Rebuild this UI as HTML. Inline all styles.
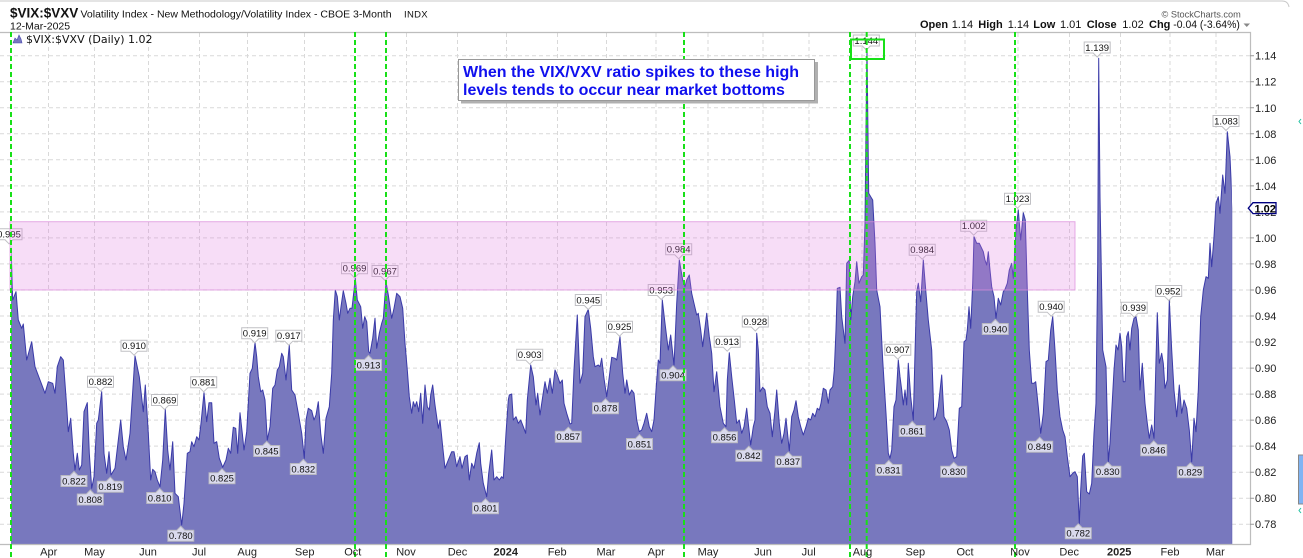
<!DOCTYPE html>
<html><head><meta charset="utf-8">
<style>
html,body{margin:0;padding:0;background:#fff;width:1303px;height:558px;overflow:hidden}
svg{display:block;font-family:"Liberation Sans",Arial,sans-serif}
.g{stroke:#d9d9d9;stroke-width:1;stroke-dasharray:4 3;fill:none}
.yl{font-size:11px;fill:#222}
.ml{font-size:11px;fill:#222;text-anchor:middle}
.lb text{font-size:9.5px;fill:#111;text-anchor:middle}
.gr{stroke:#18e018;stroke-width:2;stroke-dasharray:5 3;fill:none}
</style></head><body>
<svg width="1303" height="558" viewBox="0 0 1303 558" xmlns="http://www.w3.org/2000/svg">
<defs>
<path id="p" d="M-13,-5.5H13V5.5H4L0,9.5L-4,5.5H-13Z" fill="rgba(255,255,255,0.72)" stroke="rgba(185,185,190,0.9)" stroke-width="1"/>
<path id="t" d="M-13,-5.5H-4L0,-9.5L4,-5.5H13V5.5H-13Z" fill="rgba(255,255,255,0.72)" stroke="rgba(185,185,190,0.9)" stroke-width="1"/>
<clipPath id="lc"><rect x="11.6" y="30" width="1220.2" height="513.3"/></clipPath>
</defs>

<!-- top frame -->
<path d="M0,1H1282Q1288,1 1289,7" stroke="#c8c8c8" stroke-width="1" fill="none"/>

<!-- header -->
<text x="10" y="17.3" font-size="13.5" font-weight="bold" fill="#111">$VIX:$VXV</text>
<text x="80.5" y="17.3" font-size="10.5" fill="#111">Volatility Index - New Methodology/Volatility Index - CBOE 3-Month</text>
<text x="404" y="17.3" font-size="9.5" fill="#111" letter-spacing="0.3">INDX</text>
<text x="10" y="29.3" font-size="10.5" fill="#111">12-Mar-2025</text>
<text x="1161.5" y="17.5" font-size="9.2" fill="#555">© StockCharts.com</text>
<g font-size="11" fill="#111">
<text x="920" y="28" font-weight="bold">Open</text><text x="951.7" y="28">1.14</text>
<text x="978.3" y="28" font-weight="bold">High</text><text x="1007.7" y="28">1.14</text>
<text x="1033.3" y="28" font-weight="bold">Low</text><text x="1060" y="28">1.01</text>
<text x="1086.7" y="28" font-weight="bold">Close</text><text x="1122.3" y="28">1.02</text>
<text x="1149" y="28" font-weight="bold">Chg</text><text x="1173.3" y="28" textLength="66.5" lengthAdjust="spacingAndGlyphs">-0.04 (-3.64%)</text>
</g>
<path d="M1243.5,23.5H1250L1246.75,27Z" fill="#888"/>

<!-- grid -->
<g class="g">
<path d="M0,55.7H1250M0,81.7H1250M0,107.8H1250M0,133.8H1250M0,159.8H1250M0,185.9H1250M0,211.9H1250M0,237.9H1250M0,263.9H1250M0,290H1250M0,316H1250M0,342H1250M0,368.1H1250M0,394.1H1250M0,420.1H1250M0,446.1H1250M0,472.2H1250M0,498.2H1250M0,524.2H1250"/>
<path d="M48.5,33V544M94.5,33V544M148.5,33V544M199.5,33V544M247.5,33V544M304.5,33V544M406.5,33V544M457.5,33V544M506.5,33V544M557.5,33V544M606.5,33V544M656,33V544M708,33V544M763,33V544M809,33V544M862,33V544M915.5,33V544M965,33V544M1018,33V544M1069.5,33V544M1120.5,33V544M1170,33V544M1216,33V544"/>
</g>

<!-- area -->
<path id="area" fill="#7878be" d="M11,544L11,244L12.7,300L16,291.7L18.3,320L21.7,328.3L23.3,324L26.7,360L31.7,341.7L35,366.7L40,380L45,393.3L48.3,381.7L52.7,383.3L55,393.3L57.3,366.7L60.7,356.7L63.3,360L66.7,406.7L68.3,431.7L70.7,418.3L73.3,453.3L75,470L77.3,453.3L79.3,470L81.7,465L84,411.7L87.3,402.7L89.3,453.3L91.7,488.3L94,476.7L96.7,423.3L98.3,420L101.7,391.7L104,453.3L106.7,473.3L109,451.7L111,475L115,468.3L118.3,440L120.7,420L123.3,446.7L126,460L130,433.3L135,356L139.3,376.7L143.3,411.7L145.3,385L148.3,433.3L150.7,480L152.7,469.3L155,471.7L157.3,480L160,486.7L162.7,460L165.3,409.3L167.7,450L170,470L172.7,441.7L175,493.3L178.3,496.7L181.7,525L184,503.3L187.3,453.3L190,451.7L191.7,441.7L194,446.7L196.7,436.7L199,440L201,423.3L204,392.7L206.7,421.7L209,402.7L211.7,402.7L214,443.3L216.7,441.7L219.3,458.3L222.7,467.3L226,460L228.3,448.3L230.7,453.3L233.3,427.3L235.7,428.3L237.7,453.3L240,412.7L242.3,433.3L244,450L246.7,431.7L250,373.3L252.3,368.3L255,342.7L256.7,356.7L258.3,376.7L260.7,391.7L262.7,390L265,400L267.3,440L270,426.7L272.7,388.3L275,385L277.3,370L279.3,366.7L281.7,353.3L283.3,356.7L286,380L289.3,345L291.7,390L295,395L298.3,413.3L301.7,433.3L304.3,458.3L306,420L308.3,408.3L311.7,410.7L314,420L316,415L318.3,401.7L320.7,433.3L323.3,453.3L326,418.3L329.3,406.7L331.7,373.3L333.3,320L335.3,290L337.3,296.7L339.3,320L341,306.7L343.3,290.7L346,303.3L347.7,313.3L350,308.3L352,308.3L355.3,278.3L357.3,300L360.7,306.7L362.7,328.3L364.7,316.7L366.7,321.7L368.7,351.7L370,353.3L372.7,338.3L375,318.3L376.7,348.3L379.3,333.3L381.7,323.3L383.3,318.3L386,281.7L388.3,295L391.7,318.3L394,308.3L396.7,293.3L400,296.7L402.7,308.3L405,343.3L407.3,370L409.3,396.7L411.7,413.3L413.3,401.7L415,406.7L416.7,401.7L418.7,411.7L420.7,393.3L422.7,423.3L425,385L427.3,406.7L429.3,410L430.7,395L432.7,385L435,405L438.3,428.3L440,420L442.7,446.7L445,468.3L448.3,460L451.7,451.7L454,451.7L456.7,466.7L460,456.7L462,468.3L465,456.7L467.3,455L469.3,480L471.7,463.3L474,468.3L476.7,453.3L479.3,442.7L480.7,463.3L483.3,483.3L486.7,496.7L488.7,473.3L491.7,450L494,480L496.7,476.7L499.3,480L501.7,476.7L503.3,478.3L506,433.3L508.3,400L509.3,395L511.7,394L513.3,420L516,416.7L518.3,423.3L520.7,420L523.3,426.7L525.7,433.3L527.3,400L530.7,365L533.3,376.7L536,405L537.7,393.3L540,415L542.7,396.7L545,381.7L547.3,393.3L550,378.3L552.3,393.3L555,370L557.3,375L560,383.3L562.3,380L564,403.3L566.7,413.3L570,424L571.7,423.3L574,370L577.3,315L580,383.3L582.7,373.3L585,316.7L588.3,309.3L590.7,328.3L593.3,356.7L595,366.7L598.3,365L600,366.7L601.7,358.3L604,378.3L606.7,396.7L609.3,376.7L611.7,357.3L615,358.3L616.7,360L620,336.7L622.7,373.3L625,393.3L626.7,380L629.3,395L631.7,390L634,393.3L636.7,420L639.3,431.7L641.7,430L644,423.3L646.7,413.3L649.3,426.7L651.7,431.7L654,420L656,390L658.3,360L660,363.3L662.3,300L665,323.3L668.3,350L670.7,335L672.7,353.3L674,365L676.7,303.3L679.3,260L682.7,280L685,286.7L686.7,280L689.3,275L691.7,293.3L694,303.3L696.7,315L698.3,313.3L700.7,330L702.7,346.7L704.7,330L706.7,313.3L709.3,336.7L711.7,353.3L714,391.7L716.7,371.7L720,406.7L723.3,423.3L726,426.7L727.3,380L729.3,352.7L731.7,376.7L734.3,400L736.7,423.3L739.3,420L741.7,433.3L744,426.7L746.7,408.3L748.3,423.3L750.7,445L753.3,426.7L755,420L756.7,333.3L758.3,350L760,391.7L762.7,387.3L765,390L767.3,406.7L770,413.3L772.3,436.7L775,410L776.7,390L779.3,423.3L781.7,443.3L784,433.3L786,418.3L789.3,450.7L791.7,416.7L794,410L796,400.7L798.3,416.7L800.7,426.7L803.3,435L806,426.7L808.3,418.3L810.7,420L812.7,413.3L815,416.7L817.3,408.3L819.3,410L821,403.3L823.3,388.3L826,390L828.3,403.3L830,390L832.7,386.7L834.3,370L836,330L837.3,288.3L840,287.3L841.7,316.7L845,343.3L846.7,263.3L849.3,260L850.7,320L852.7,296.7L855,281.7L856.7,261.7L859,283.3L861.7,276.7L863.3,275L865,223.3L866,126.7L867,50.5L868.7,193.3L870.7,196.7L872.7,200L875,243.3L876.7,290L880,306.7L882.7,360L886,413.3L888.3,453.3L890,458.3L891.7,450L894,406.7L896,400L898.3,360L900,376.7L901.7,390L903.3,405L905,390L906.7,405L908.3,363.3L910.7,396.7L913.3,420L915,353.3L916.7,291.7L918.3,283.3L920.7,301.7L923.3,260L926,293.3L928.3,320L931.7,350L934,420L936,416.7L938.3,406.7L941.7,375L944,416.7L946.7,421.7L949.3,430L951.7,450L954,458.3L956.7,456.7L959.3,408.3L961.7,406.7L964,341.7L966,340L967.3,330L969,306.7L970.7,328.3L972.7,283.3L974,236.7L976.7,243.3L979.3,243.3L981.7,248.3L983.3,251.7L985,260L986.7,265L988.3,251.7L990,270L991.7,286.7L994,296.7L996,318.3L998.3,298.3L1000.7,305L1003.3,291.7L1005,289.3L1007.3,283.3L1009.3,270L1011.7,263.3L1013.3,278.3L1016,230L1018.3,210L1020.7,240L1023.3,212.7L1025.3,220L1027.3,290L1029.3,350L1031.7,383.3L1034,383.3L1035.7,381.7L1038.3,406.7L1040.7,433.3L1043.3,413.3L1046,361.7L1048.3,360L1050.7,330L1052.7,316.7L1055,350L1057.3,390L1060,416.7L1062.7,430L1065,436.7L1067.3,456.7L1070,476.7L1072.7,473.3L1075,471.7L1077.3,476.7L1079.3,523.3L1080.7,490L1082.7,456L1084.3,453.3L1086.7,491.7L1089.3,494L1091.7,483.3L1094,433.3L1096,403.3L1097.7,263.3L1098.7,58.3L1100,196.7L1102.7,350L1106,366.7L1108.3,461.7L1110,443.3L1112,406.7L1114,370L1116,345L1118,350L1120,333.3L1121.7,346.7L1123.3,381.7L1125,381.7L1126.7,336.7L1128.3,331.7L1130,350L1131.7,328.3L1134,318.3L1136,316.7L1138.3,330L1140,390L1142.3,363.3L1145,403.3L1147.3,423.3L1149.3,438.3L1151.7,425L1154,438.3L1156,360L1157.3,312.7L1159.3,363.3L1161.7,353.3L1163.3,363.3L1165,388.3L1167.3,380L1169.3,300L1171.7,350L1174,390L1176.7,416.7L1179.3,385L1181.7,413.3L1184,400L1186.7,408.3L1189.3,430L1191.7,461.7L1194,418.3L1196,431.7L1198.3,390L1200.7,316.7L1203.3,290L1206,276.7L1208.3,278.3L1210,243.3L1211.7,266.7L1214,236.7L1216,203.3L1218.3,196.7L1220,213.3L1222.7,175L1225,193.3L1227.3,131.7L1230,156.7L1232.3,208.3L1232.3,544Z"/>
<use href="#area" fill="none" stroke="#3a3aa8" stroke-width="1" stroke-linejoin="round" clip-path="url(#lc)"/>

<!-- frame -->
<path d="M0,32.5H1250.5V544.5H0" stroke="#bdbdbd" stroke-width="1.2" fill="none"/>

<!-- data labels -->
<g class="lb">
<g transform="translate(9,234.3)"><use href="#p"/><text y="3.4">0.995</text></g>
<g transform="translate(74,481)"><use href="#t"/><text y="3.4">0.822</text></g>
<g transform="translate(90.3,499.5)"><use href="#t"/><text y="3.4">0.808</text></g>
<g transform="translate(100.5,381.7)"><use href="#p"/><text y="3.4">0.882</text></g>
<g transform="translate(110.3,486.7)"><use href="#t"/><text y="3.4">0.819</text></g>
<g transform="translate(134,345.7)"><use href="#p"/><text y="3.4">0.910</text></g>
<g transform="translate(164.5,400)"><use href="#p"/><text y="3.4">0.869</text></g>
<g transform="translate(159.7,498)"><use href="#t"/><text y="3.4">0.810</text></g>
<g transform="translate(180.8,535.7)"><use href="#t"/><text y="3.4">0.780</text></g>
<g transform="translate(203.7,382.3)"><use href="#p"/><text y="3.4">0.881</text></g>
<g transform="translate(222,478.3)"><use href="#t"/><text y="3.4">0.825</text></g>
<g transform="translate(254.7,333.3)"><use href="#p"/><text y="3.4">0.919</text></g>
<g transform="translate(266.7,451)"><use href="#t"/><text y="3.4">0.845</text></g>
<g transform="translate(288.8,335.7)"><use href="#p"/><text y="3.4">0.917</text></g>
<g transform="translate(303.3,469)"><use href="#t"/><text y="3.4">0.832</text></g>
<g transform="translate(354.5,268.3)"><use href="#p"/><text y="3.4">0.969</text></g>
<g transform="translate(385,271)"><use href="#p"/><text y="3.4">0.967</text></g>
<g transform="translate(368.5,365)"><use href="#t"/><text y="3.4">0.913</text></g>
<g transform="translate(485.5,508.3)"><use href="#t"/><text y="3.4">0.801</text></g>
<g transform="translate(529.7,354.7)"><use href="#p"/><text y="3.4">0.903</text></g>
<g transform="translate(568.3,436.7)"><use href="#t"/><text y="3.4">0.857</text></g>
<g transform="translate(588.3,300)"><use href="#p"/><text y="3.4">0.945</text></g>
<g transform="translate(605.5,408.3)"><use href="#t"/><text y="3.4">0.878</text></g>
<g transform="translate(619.5,326.7)"><use href="#p"/><text y="3.4">0.925</text></g>
<g transform="translate(639.5,444)"><use href="#t"/><text y="3.4">0.851</text></g>
<g transform="translate(661.2,290)"><use href="#p"/><text y="3.4">0.953</text></g>
<g transform="translate(673,375.3)"><use href="#t"/><text y="3.4">0.904</text></g>
<g transform="translate(678.7,249.3)"><use href="#p"/><text y="3.4">0.984</text></g>
<g transform="translate(727.2,341.7)"><use href="#p"/><text y="3.4">0.913</text></g>
<g transform="translate(724.5,437.3)"><use href="#t"/><text y="3.4">0.856</text></g>
<g transform="translate(748.8,455.7)"><use href="#t"/><text y="3.4">0.842</text></g>
<g transform="translate(755.3,321.5)"><use href="#p"/><text y="3.4">0.928</text></g>
<g transform="translate(788.3,461.7)"><use href="#t"/><text y="3.4">0.837</text></g>
<g transform="translate(866.3,40.5)"><use href="#p"/><text y="3.4">1.144</text></g>
<g transform="translate(888.8,470)"><use href="#t"/><text y="3.4">0.831</text></g>
<g transform="translate(897.8,349.7)"><use href="#p"/><text y="3.4">0.907</text></g>
<g transform="translate(912.2,431)"><use href="#t"/><text y="3.4">0.861</text></g>
<g transform="translate(922.2,249.7)"><use href="#p"/><text y="3.4">0.984</text></g>
<g transform="translate(953.7,471.7)"><use href="#t"/><text y="3.4">0.830</text></g>
<g transform="translate(973.7,225.7)"><use href="#p"/><text y="3.4">1.002</text></g>
<g transform="translate(995.3,329)"><use href="#t"/><text y="3.4">0.940</text></g>
<g transform="translate(1017.5,198.7)"><use href="#p"/><text y="3.4">1.023</text></g>
<g transform="translate(1051.2,306.7)"><use href="#p"/><text y="3.4">0.940</text></g>
<g transform="translate(1039.7,446.7)"><use href="#t"/><text y="3.4">0.849</text></g>
<g transform="translate(1097.2,47.5)"><use href="#p"/><text y="3.4">1.139</text></g>
<g transform="translate(1078.3,533.3)"><use href="#t"/><text y="3.4">0.782</text></g>
<g transform="translate(1107.8,471.7)"><use href="#t"/><text y="3.4">0.830</text></g>
<g transform="translate(1134.2,307.7)"><use href="#p"/><text y="3.4">0.939</text></g>
<g transform="translate(1168.7,291)"><use href="#p"/><text y="3.4">0.952</text></g>
<g transform="translate(1153.7,450.3)"><use href="#t"/><text y="3.4">0.846</text></g>
<g transform="translate(1190.3,472.3)"><use href="#t"/><text y="3.4">0.829</text></g>
<g transform="translate(1226,121)"><use href="#p"/><text y="3.4">1.083</text></g>
</g>

<!-- pink band -->
<rect x="10" y="221.7" width="1065" height="68.3" fill="rgba(225,120,225,0.25)" stroke="rgba(220,140,220,0.7)" stroke-width="1"/>

<!-- green dashed lines -->
<path class="gr" d="M11,32V558M355,32V558M386,32V558M684,32V558M850,32V558M866.7,32V558M1015,32V558"/>
<rect x="851" y="39.5" width="33" height="19.5" fill="none" stroke="#18e018" stroke-width="2"/>

<!-- annotation -->
<rect x="461" y="62" width="357" height="41.5" fill="#b0b0b0"/>
<rect x="458.5" y="59.5" width="356" height="41" fill="#fff" stroke="#999" stroke-width="1"/>
<text x="463" y="77" font-size="16" font-weight="bold" fill="#1010ee">When the VIX/VXV ratio spikes to these high</text>
<text x="463" y="95" font-size="16" font-weight="bold" fill="#1010ee">levels tends to occur near market bottoms</text>

<!-- legend -->
<path d="M13,43L15,38L17,40L19,35L21,39L22,43Z" fill="#7878be" stroke="#4a4ab0" stroke-width="0.6"/>
<text x="26" y="43" font-size="11" fill="#111" font-family="'DejaVu Sans',sans-serif">$VIX:$VXV (Daily) 1.02</text>

<!-- y axis -->
<g stroke="#999" stroke-width="1">
<path d="M1250,55.7h4M1250,81.7h4M1250,107.8h4M1250,133.8h4M1250,159.8h4M1250,185.9h4M1250,211.9h4M1250,237.9h4M1250,263.9h4M1250,290h4M1250,316h4M1250,342h4M1250,368.1h4M1250,394.1h4M1250,420.1h4M1250,446.1h4M1250,472.2h4M1250,498.2h4M1250,524.2h4"/>
</g>
<g class="yl">
<text x="1255" y="59.7">1.14</text>
<text x="1255" y="85.7">1.12</text>
<text x="1255" y="111.8">1.10</text>
<text x="1255" y="137.8">1.08</text>
<text x="1255" y="163.8">1.06</text>
<text x="1255" y="189.9">1.04</text>
<text x="1255" y="215.9">1.02</text>
<text x="1255" y="241.9">1.00</text>
<text x="1255" y="267.9">0.98</text>
<text x="1255" y="294">0.96</text>
<text x="1255" y="320">0.94</text>
<text x="1255" y="346">0.92</text>
<text x="1255" y="372.1">0.90</text>
<text x="1255" y="398.1">0.88</text>
<text x="1255" y="424.1">0.86</text>
<text x="1255" y="450.1">0.84</text>
<text x="1255" y="476.2">0.82</text>
<text x="1255" y="502.2">0.80</text>
<text x="1255" y="528.2">0.78</text>
</g>
<path d="M1248.3,208.2L1253,202.7H1276V213.6H1253Z" fill="#fff" stroke="#000080" stroke-width="1.3"/>
<text x="1254.5" y="212.3" font-size="11" font-weight="bold" fill="#000">1.02</text>

<!-- right edge bits -->
<path d="M1301,119L1299,121.5L1301,124" stroke="#20c0a0" stroke-width="1" fill="none"/>
<rect x="1298.5" y="455" width="5" height="49" fill="#80b4f4" stroke="#888" stroke-width="1"/>
<path d="M1301,508L1299,510.5L1301,513" stroke="#20c0a0" stroke-width="1" fill="none"/>

<!-- month labels -->
<g class="ml">
<text x="48.7" y="555.5">Apr</text>
<text x="94.5" y="555.5">May</text>
<text x="148" y="555.5">Jun</text>
<text x="199" y="555.5">Jul</text>
<text x="247.2" y="555.5">Aug</text>
<text x="304.7" y="555.5">Sep</text>
<text x="352.8" y="555.5">Oct</text>
<text x="406" y="555.5">Nov</text>
<text x="457.5" y="555.5">Dec</text>
<text x="505.8" y="555.5" font-weight="bold">2024</text>
<text x="557.2" y="555.5">Feb</text>
<text x="606" y="555.5">Mar</text>
<text x="656.2" y="555.5">Apr</text>
<text x="708" y="555.5">May</text>
<text x="763" y="555.5">Jun</text>
<text x="808.7" y="555.5">Jul</text>
<text x="862.5" y="555.5">Aug</text>
<text x="915.3" y="555.5">Sep</text>
<text x="965" y="555.5">Oct</text>
<text x="1020" y="555.5">Nov</text>
<text x="1069.2" y="555.5">Dec</text>
<text x="1119.2" y="555.5" font-weight="bold">2025</text>
<text x="1170" y="555.5">Feb</text>
<text x="1215.3" y="555.5">Mar</text>
</g>
</svg>
</body></html>
